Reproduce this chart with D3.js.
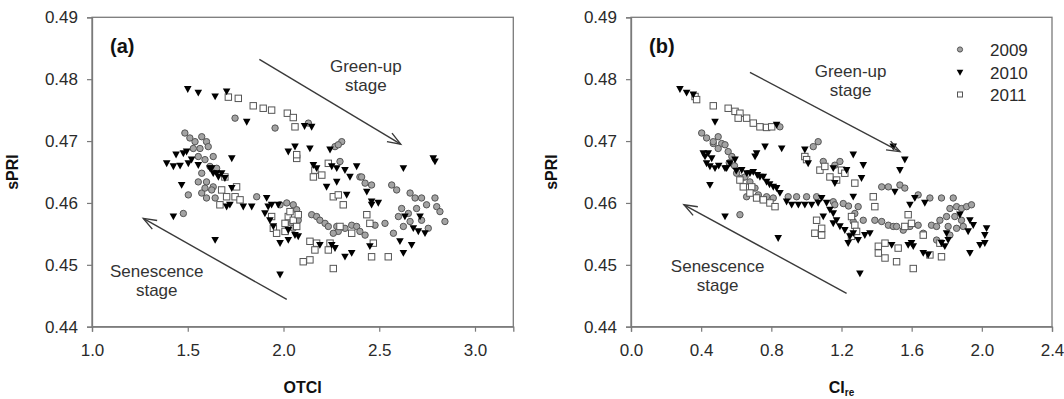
<!DOCTYPE html>
<html><head><meta charset="utf-8">
<script src="https://cdn.jsdelivr.net/npm/d3@7"></script>
<style>
html,body{margin:0;padding:0;background:#fff;}
svg{display:block;font-family:"Liberation Sans",Arial,sans-serif;}
</style></head>
<body><svg id="chart" width="1064" height="399"></svg>
<script>
// ---------- DATA ----------
const yTicks = [0.44,0.45,0.46,0.47,0.48,0.49];
const xTicksA = [1.0,1.5,2.0,2.5,3.0];
const xTicksB = [0.0,0.4,0.8,1.2,1.6,2.0,2.4];
const years = ["2009","2010","2011"];

// Panel (a): OTCI vs sPRI
const a2009 = [[1.485,0.4713],[1.511,0.4705],[1.538,0.4699],[1.573,0.4707],[1.598,0.4699],[1.529,0.4688],[1.564,0.4688],[1.607,0.4691],[1.555,0.4675],[1.59,0.467],[1.633,0.4675],[1.616,0.4659],[1.651,0.4656],[1.573,0.4648],[1.598,0.4634],[1.555,0.4634],[1.633,0.4626],[1.573,0.4616],[1.503,0.4613],[1.477,0.4583],[1.598,0.4608],[1.59,0.4624],[1.625,0.4621],[1.643,0.4608],[1.747,0.4737],[1.956,0.4721],[2.13,0.4729],[2.269,0.4691],[2.304,0.4699],[2.286,0.4694],[2.295,0.4667],[2.399,0.4642],[1.86,0.461],[1.982,0.4597],[2.017,0.46],[2.051,0.4597],[2.069,0.4589],[2.077,0.4572],[2.042,0.4567],[2.051,0.4559],[2.147,0.4581],[2.173,0.4578],[2.19,0.4572],[2.217,0.4567],[2.234,0.4562],[2.278,0.4562],[2.321,0.4559],[2.356,0.4564],[2.382,0.4562],[2.399,0.4554],[2.286,0.4554],[2.26,0.4551],[2.565,0.4629],[2.591,0.4621],[2.661,0.4616],[2.687,0.4608],[2.721,0.4608],[2.747,0.4597],[2.791,0.4608],[2.8,0.4594],[2.817,0.4586],[2.843,0.457],[2.617,0.4591],[2.695,0.4591],[2.6,0.4578],[2.652,0.4583],[2.626,0.4562],[2.574,0.4551],[2.53,0.4567],[2.478,0.4564],[2.426,0.4548],[2.426,0.4632],[2.46,0.4629],[2.408,0.4642],[2.756,0.4559],[2.661,0.457],[2.721,0.4572]];
const a2010 = [[1.50,0.4784],[1.555,0.4778],[1.643,0.4772],[1.703,0.478],[1.808,0.4731],[2.11,0.4724],[2.147,0.4723],[1.39,0.4664],[1.425,0.4659],[1.46,0.466],[1.439,0.4678],[1.477,0.468],[1.494,0.4683],[1.503,0.4664],[1.52,0.467],[1.555,0.4661],[1.616,0.4656],[1.651,0.4648],[1.677,0.4648],[1.73,0.4672],[1.633,0.4648],[1.694,0.464],[1.468,0.4629],[1.425,0.4578],[1.643,0.454],[1.625,0.4656],[1.66,0.4642],[1.703,0.4594],[1.72,0.4597],[1.79,0.4594],[1.73,0.4624],[2.025,0.4683],[2.06,0.4691],[2.138,0.4688],[2.243,0.4686],[2.156,0.4661],[2.173,0.4656],[2.252,0.4659],[2.278,0.4656],[2.321,0.4653],[2.347,0.4642],[2.382,0.4659],[2.225,0.4626],[2.278,0.4634],[2.33,0.4613],[1.834,0.4594],[1.912,0.4608],[1.92,0.4594],[1.938,0.4597],[1.973,0.4597],[1.903,0.4583],[1.929,0.4572],[1.947,0.4562],[1.982,0.4535],[2.025,0.454],[2.06,0.4548],[2.077,0.4546],[1.982,0.4484],[2.025,0.4556],[2.19,0.4532],[2.252,0.4532],[2.269,0.4527],[2.321,0.4513],[2.356,0.4519],[2.626,0.4656],[2.782,0.4672],[2.791,0.4667],[2.435,0.4618],[2.46,0.4602],[2.495,0.46],[2.46,0.4597],[2.608,0.4538],[2.669,0.4532],[2.626,0.4519],[2.678,0.4559],[2.704,0.4554],[2.739,0.4551],[2.713,0.4578],[2.634,0.4578],[2.451,0.453]];
const a2011 = [[1.712,0.4771],[1.764,0.4769],[1.842,0.4757],[1.894,0.4753],[1.938,0.475],[2.02,0.4745],[2.051,0.4738],[2.06,0.4723],[2.069,0.4672],[2.069,0.4678],[1.694,0.4642],[1.677,0.4621],[1.668,0.4597],[1.703,0.461],[1.747,0.461],[1.773,0.4605],[1.755,0.4626],[2.156,0.4642],[2.2,0.4645],[2.164,0.4653],[2.234,0.4664],[2.26,0.461],[2.312,0.4597],[2.286,0.4613],[1.938,0.4578],[1.947,0.4559],[1.964,0.4551],[2.008,0.4567],[2.025,0.4578],[2.051,0.4572],[2.069,0.4562],[2.008,0.4554],[2.034,0.4586],[2.077,0.4581],[2.138,0.4538],[2.164,0.4524],[2.173,0.4535],[2.234,0.4524],[2.243,0.4535],[2.103,0.4505],[2.138,0.4508],[2.26,0.4494],[2.295,0.4562],[2.356,0.4551],[2.435,0.4581],[2.451,0.4567],[2.469,0.4535],[2.46,0.4513],[2.547,0.4513]];

// Panel (b): CIre vs sPRI
const b2009 = [[0.403,0.4713],[0.431,0.4705],[0.497,0.4707],[0.469,0.4696],[0.517,0.4696],[0.497,0.4688],[0.554,0.4683],[1.067,0.4699],[1.039,0.4691],[0.849,0.4723],[0.469,0.4699],[0.536,0.4694],[0.575,0.4675],[0.59,0.466],[0.56,0.4665],[0.602,0.4648],[0.631,0.464],[0.65,0.4642],[0.678,0.4634],[0.707,0.4624],[0.726,0.4613],[0.773,0.461],[0.811,0.4608],[0.659,0.461],[0.621,0.4581],[0.896,0.461],[0.944,0.461],[1.001,0.461],[1.058,0.461],[1.153,0.4602],[1.162,0.4597],[1.21,0.4599],[1.24,0.4595],[1.295,0.4594],[1.276,0.4583],[1.267,0.457],[1.324,0.4572],[1.39,0.4572],[1.429,0.457],[1.467,0.4564],[1.495,0.4562],[1.429,0.4626],[1.467,0.4626],[1.096,0.4667],[1.162,0.4661],[1.191,0.4667],[1.533,0.4629],[1.561,0.4624],[1.637,0.4613],[1.704,0.4608],[1.770,0.4608],[1.837,0.4608],[1.818,0.4591],[1.856,0.4594],[1.884,0.4591],[1.913,0.4594],[1.941,0.4597],[1.761,0.4572],[1.799,0.4578],[1.846,0.4578],[1.884,0.4572],[1.713,0.4564],[1.742,0.4562],[1.808,0.4562],[1.856,0.4559],[1.818,0.4548],[1.894,0.4562],[1.637,0.4564],[1.666,0.4551],[1.59,0.4562],[1.552,0.4556],[1.514,0.4562],[1.742,0.454]];
const b2010 = [[0.279,0.4784],[0.317,0.4778],[0.355,0.4775],[0.479,0.4731],[0.764,0.4691],[0.716,0.468],[0.707,0.4675],[0.859,0.4688],[0.83,0.4726],[0.991,0.4686],[1.01,0.4664],[0.45,0.4629],[0.412,0.468],[0.422,0.4675],[0.44,0.468],[0.431,0.4664],[0.46,0.4672],[0.5,0.466],[0.479,0.4656],[0.536,0.4656],[0.564,0.4664],[0.6,0.4652],[0.631,0.4653],[0.66,0.4648],[0.678,0.4648],[0.72,0.4645],[0.735,0.4642],[0.773,0.4634],[0.79,0.463],[0.811,0.4626],[0.849,0.4616],[0.593,0.467],[0.45,0.4659],[0.545,0.4656],[0.697,0.465],[0.754,0.4642],[0.83,0.4624],[0.536,0.4578],[0.839,0.4543],[0.887,0.4602],[0.916,0.4597],[0.954,0.4597],[0.991,0.4597],[1.03,0.4597],[1.067,0.46],[1.087,0.4608],[1.115,0.46],[1.134,0.4589],[1.153,0.4583],[1.172,0.4572],[1.191,0.4562],[1.219,0.4556],[1.248,0.4546],[1.267,0.4551],[1.295,0.454],[1.333,0.4548],[1.362,0.4551],[1.238,0.4535],[1.096,0.4578],[1.153,0.4567],[1.305,0.4486],[1.153,0.4656],[1.162,0.4632],[1.267,0.4678],[1.324,0.4661],[1.314,0.464],[1.267,0.461],[1.229,0.4653],[1.495,0.4691],[1.561,0.467],[1.533,0.4653],[1.504,0.4618],[1.59,0.4597],[1.618,0.4608],[1.675,0.46],[1.875,0.4581],[1.932,0.4572],[1.951,0.4564],[1.922,0.4554],[2.027,0.4559],[2.017,0.4548],[1.989,0.4532],[2.017,0.4535],[1.932,0.4519],[1.58,0.4532],[1.609,0.453],[1.599,0.4535],[1.666,0.4519],[1.694,0.4516],[1.770,0.4535],[1.789,0.453],[1.808,0.454],[1.486,0.4532],[1.799,0.4551]];
const b2011 = [[0.365,0.4772],[0.374,0.4767],[0.469,0.4757],[0.554,0.4753],[0.593,0.4748],[0.621,0.4745],[0.611,0.4737],[0.659,0.4737],[0.697,0.4729],[0.735,0.4723],[0.773,0.4722],[0.802,0.4723],[0.621,0.4637],[0.64,0.4626],[0.688,0.4626],[0.716,0.4608],[0.754,0.4605],[0.792,0.46],[0.821,0.4594],[0.678,0.4616],[0.991,0.4675],[1.001,0.467],[1.077,0.4653],[1.105,0.4659],[1.134,0.4642],[1.172,0.4637],[1.2,0.4653],[1.219,0.4648],[1.276,0.4632],[1.058,0.4572],[1.087,0.4559],[1.048,0.4551],[1.087,0.4548],[1.257,0.4578],[1.276,0.4564],[1.286,0.4554],[1.257,0.4546],[1.381,0.461],[1.39,0.4594],[1.41,0.453],[1.448,0.4535],[1.448,0.4511],[1.41,0.4519],[1.58,0.4581],[1.561,0.4562],[1.599,0.4567],[1.523,0.4527],[1.514,0.4505],[1.609,0.4494],[1.704,0.4516],[1.770,0.4513],[1.761,0.4535],[1.666,0.4548]];

// annotation arrows [x1,y1,x2,y2] in data units (arrowhead at x2,y2)
const arrowsA = [[1.874,0.4832,2.612,0.4695],[2.017,0.4444,1.268,0.4575]];
const arrowsB = [[0.678,0.4811,1.533,0.4683],[1.229,0.4454,0.302,0.4597]];
const labelsA = [{t:["Green-up","stage"],x:2.43,y:0.4812},{t:["Senescence","stage"],x:1.338,y:0.4481}];
const labelsB = [{t:["Green-up","stage"],x:1.252,y:0.4804},{t:["Senescence","stage"],x:0.494,y:0.4489}];

// ---------- DRAW ----------
const svg = d3.select("#chart");
const TOP = 17.3, BOT = 326.7;
const y = d3.scaleLinear().domain([0.44,0.49]).range([BOT,TOP]);
const AXC = "#7a7a7a", TXT = "#2a2a2a";

const triPath = "M-3.8,-3.1 L3.8,-3.1 L0,3.8 Z";

function drawPanel(opt){
  const x = d3.scaleLinear().domain(opt.xdom).range([opt.left,opt.right]);
  const g = svg.append("g");
  g.append("rect").attr("x",opt.left).attr("y",TOP).attr("width",opt.right-opt.left).attr("height",BOT-TOP)
    .attr("fill","none").attr("stroke",AXC).attr("stroke-width",1.3);
  const ax = g.append("g").attr("transform",`translate(0,${BOT})`)
    .call(d3.axisBottom(x).tickValues(opt.xticks).tickFormat(d3.format(".1f")).tickSize(5).tickPadding(12));
  const ay = g.append("g").attr("transform",`translate(${opt.left},0)`)
    .call(d3.axisLeft(y).tickValues(yTicks).tickFormat(d3.format(".2f")).tickSize(5).tickPadding(9));
  [ax,ay].forEach(a=>{
    a.select(".domain").attr("stroke",AXC).attr("stroke-width",1.3);
    a.selectAll(".tick line").attr("stroke",AXC).attr("stroke-width",1.2);
    a.selectAll(".tick text").attr("fill",TXT).style("font-size","17px").style("font-family","Liberation Sans, Arial, sans-serif");
  });
  g.append("g").selectAll("circle").data(opt.d2009).join("circle")
    .attr("cx",d=>x(d[0])).attr("cy",d=>y(d[1])).attr("r",3.2)
    .attr("fill","#a3a3a3").attr("stroke","#555").attr("stroke-width",1);
  g.append("g").selectAll("rect").data(opt.d2011).join("rect")
    .attr("x",d=>x(d[0])-3.2).attr("y",d=>y(d[1])-3.2).attr("width",6.4).attr("height",6.4)
    .attr("fill","#fff").attr("stroke","#555").attr("stroke-width",1);
  g.append("g").selectAll("path").data(opt.d2010).join("path")
    .attr("d",triPath).attr("transform",d=>`translate(${x(d[0])},${y(d[1])})`)
    .attr("fill","#000");
  opt.arrows.forEach(a=>{
    const x1=x(a[0]),y1=y(a[1]),x2=x(a[2]),y2=y(a[3]);
    const ang=Math.atan2(y1-y2,x1-x2), L=14, s=0.36;
    g.append("line").attr("x1",x1).attr("y1",y1).attr("x2",x2).attr("y2",y2).attr("stroke","#3a3a3a").attr("stroke-width",1.4);
    g.append("path").attr("d",`M${x2+L*Math.cos(ang+s)},${y2+L*Math.sin(ang+s)} L${x2},${y2} L${x2+L*Math.cos(ang-s)},${y2+L*Math.sin(ang-s)}`)
      .attr("fill","none").attr("stroke","#3a3a3a").attr("stroke-width",1.4);
  });
  opt.labels.forEach(l=>{
    const t=g.append("text").attr("text-anchor","middle").attr("fill","#333").style("font-size","17px");
    l.t.forEach((s,i)=>t.append("tspan").attr("x",x(l.x)).attr("y",y(l.y)+i*19).text(s));
  });
  g.append("text").attr("x",opt.left+18).attr("y",53).attr("fill","#111")
    .style("font-size","20px").style("font-weight","bold").text(opt.letter);
  g.append("text").attr("transform",`translate(${opt.left-74},${(TOP+BOT)/2}) rotate(-90)`)
    .attr("text-anchor","middle").attr("fill","#111").style("font-size","16px").style("font-weight","bold").text("sPRI");
  const xt = g.append("text").attr("x",(opt.left+opt.right)/2).attr("y",393).attr("text-anchor","middle")
    .attr("fill","#111").style("font-size","16px").style("font-weight","bold");
  xt.append("tspan").text(opt.xtitle[0]);
  if(opt.xtitle[1]) xt.append("tspan").attr("dy",3).style("font-size","10px").text(opt.xtitle[1]);
  return x;
}

drawPanel({left:92,right:513.3,xdom:[1.0,3.2],xticks:xTicksA,d2009:a2009,d2010:a2010,d2011:a2011,
  arrows:arrowsA,labels:labelsA,letter:"(a)",xtitle:["OTCI"]});
drawPanel({left:631,right:1052,xdom:[0,2.4],xticks:xTicksB,d2009:b2009,d2010:b2010,d2011:b2011,
  arrows:arrowsB,labels:labelsB,letter:"(b)",xtitle:["CI","re"]});

const lg = svg.append("g").attr("transform","translate(960,0)");
const rows=[49.5,72.5,94.5];
lg.append("circle").attr("cx",0).attr("cy",rows[0]).attr("r",2.6).attr("fill","#a3a3a3").attr("stroke","#555");
lg.append("path").attr("d","M-3.3,-2.8 L3.3,-2.8 L0,3.3 Z").attr("transform",`translate(0,${rows[1]})`).attr("fill","#000");
lg.append("rect").attr("x",-2.5).attr("y",rows[2]-2.5).attr("width",5).attr("height",5).attr("fill","#fff").attr("stroke","#555");
years.forEach((s,i)=>lg.append("text").attr("x",30).attr("y",rows[i]+6.5).attr("fill","#2a2a2a").style("font-size","17px").text(s));
</script></body></html>
